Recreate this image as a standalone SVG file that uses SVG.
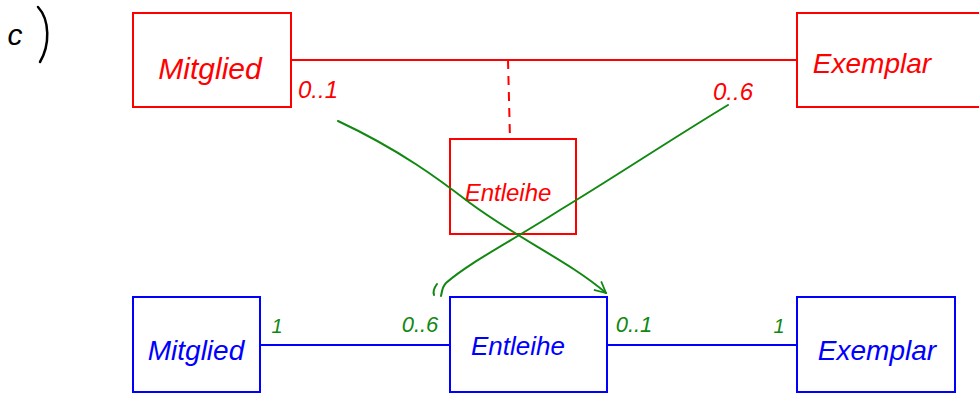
<svg xmlns="http://www.w3.org/2000/svg" width="979" height="396" viewBox="0 0 979 396">
<style>
.r{fill:none;stroke:#ff0000;stroke-width:2}
.b{fill:none;stroke:#0000ff;stroke-width:2}
.t{font-family:"Liberation Sans",Arial,sans-serif;font-style:italic;text-anchor:middle}
.tr{fill:#ff0000}
.tb{fill:#0000ff}
.tg{fill:#118811}
.lr{stroke:#ff0000;stroke-width:2;fill:none}
.lb{stroke:#0000ff;stroke-width:2;fill:none}
.lg{stroke:#118811;stroke-width:2;fill:none;stroke-linecap:round}
</style>
<defs>
<marker id="ah" viewBox="0 0 20 20" refX="18" refY="10" markerWidth="14" markerHeight="14" markerUnits="userSpaceOnUse" orient="auto">
<path d="M2,2 L18,10 L2,18" fill="none" stroke="#118811" stroke-width="2.5"/>
</marker>
</defs>
<g id="label-c">
<text x="15" y="45" class="t" font-size="30" fill="#000">c</text>
<path d="M38,7 C50,20 50,45 40,62" fill="none" stroke="#000" stroke-width="2.5" stroke-linecap="round"/>
</g>
<g id="node-mitglied-red">
<rect x="133" y="13" width="158" height="94" class="r"/>
<text x="210" y="79" class="t tr" font-size="30">Mitglied</text>
</g>
<g id="node-exemplar-red">
<rect x="797" y="13" width="185" height="94" class="r"/>
<text x="872" y="73" class="t tr" font-size="28">Exemplar</text>
</g>
<g id="node-entleihe-red">
<rect x="450" y="139" width="126" height="95" class="r"/>
<text x="508" y="201" class="t tr" font-size="24">Entleihe</text>
</g>
<g id="node-mitglied-blue">
<rect x="133" y="297" width="127" height="95" class="b"/>
<text x="196" y="360" class="t tb" font-size="28">Mitglied</text>
</g>
<g id="node-entleihe-blue">
<rect x="450" y="297" width="157" height="95" class="b"/>
<text x="518" y="355" class="t tb" font-size="26">Entleihe</text>
</g>
<g id="node-exemplar-blue">
<rect x="797" y="297" width="158" height="95" class="b"/>
<text x="877" y="360" class="t tb" font-size="28">Exemplar</text>
</g>
<g id="connectors">
<line x1="291" y1="60" x2="797" y2="60" class="lr"/>
<path d="M508,60 L510,139" class="lr" stroke-dasharray="9,7"/>
<line x1="260" y1="345" x2="450" y2="345" class="lb"/>
<line x1="607" y1="345" x2="797" y2="345" class="lb"/>
<path d="M338,121 C400,150 440,180 470,203 C520,240 570,262 606,293" class="lg" marker-end="url(#ah)"/>
<path d="M728,105 C670,140 610,180 560,210 C510,242 470,262 446,283 C442,287 442,292 441,296" class="lg"/>
<path d="M437,284 C434,288 433,292 434,295" class="lg"/>
</g>
<g id="multiplicities">
<text x="318" y="98" class="t tr" font-size="24">0..1</text>
<text x="733" y="100" class="t tr" font-size="24">0..6</text>
<text x="277" y="333" class="t tg" font-size="20">1</text>
<text x="420" y="332" class="t tg" font-size="22">0..6</text>
<text x="634" y="332" class="t tg" font-size="22">0..1</text>
<text x="779" y="333" class="t tg" font-size="20">1</text>
</g>
</svg>
